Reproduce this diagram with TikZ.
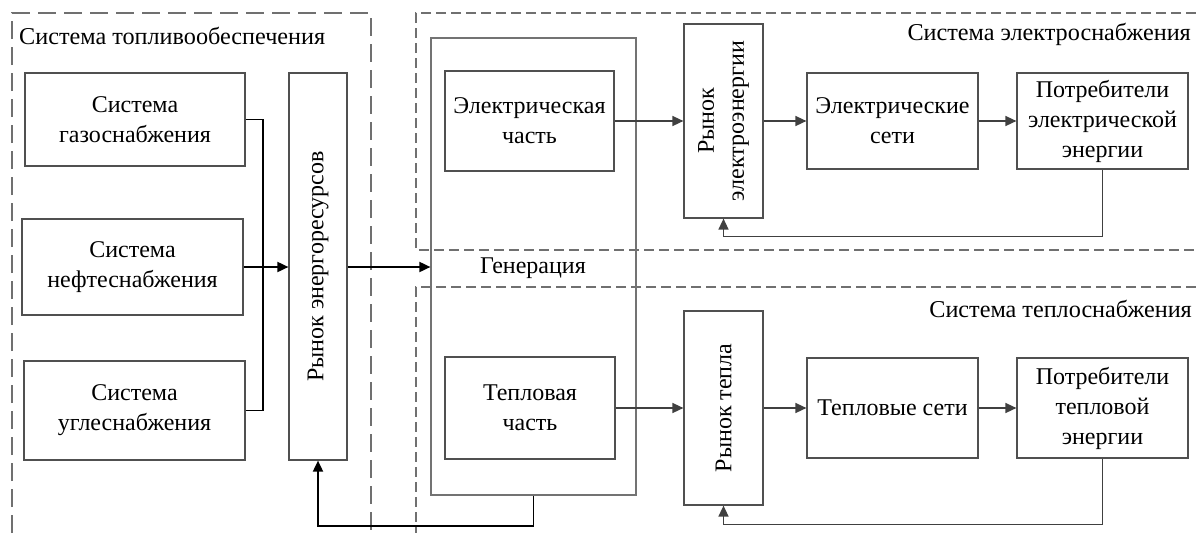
\documentclass[tikz,border=0pt]{standalone}
\usepackage{fontspec}
\setmainfont{Liberation Serif}
\usetikzlibrary{arrows.meta}
\definecolor{boxc}{HTML}{505050}
\definecolor{arrc}{HTML}{404040}
\definecolor{dashc}{HTML}{707070}
\begin{document}
\begin{tikzpicture}[x=1pt,y=-1pt,
  bf/.style={font=\fontsize{24}{30}\selectfont},
  blk/.style={draw=boxc,line width=1.2pt,inner sep=0pt,align=center,bf},
  ttl/.style={inner sep=0pt,font=\fontsize{24.2}{28}\selectfont},
  lar/.style={black,line width=1.8pt,-{Triangle[length=11pt,width=10pt]}},
  lln/.style={black,line width=1.8pt},
  rar/.style={arrc,line width=1.5pt,-{Triangle[length=11pt,width=10pt]}},
  dbig/.style={dashc,line width=1.2pt,dash pattern=on 18pt off 8pt},
  dsmall/.style={dashc,line width=1.2pt,dash pattern=on 10pt off 5pt}]
\useasboundingbox (0,0) rectangle (1196,533);
% dashed system frames
\draw[dbig] (12,533) -- (12,13) -- (371,13) -- (371,533);
\draw[dsmall] (1196,13) -- (416,13) -- (416,250) -- (1196,250);
\draw[dsmall] (1196,287) -- (416,287) -- (416,533);
\node[ttl,anchor=west] (t1) at (19,36) {Система топливообеспечения};
\node[ttl,anchor=east] (t2) at (1191,34) {Система электроснабжения};
\node[ttl,anchor=east] (t3) at (1192,309) {Система теплоснабжения};
% fuel
\node[blk,minimum width=220pt,minimum height=93pt] (gas) at (135,119.5) {Система\\газоснабжения};
\node[blk,minimum width=221pt,minimum height=96pt] (oil) at (132.5,267) {Система\\нефтеснабжения};
\node[blk,minimum width=221pt,minimum height=99pt] (coal) at (134.5,410.5) {Система\\углеснабжения};
\node[blk,minimum width=58pt,minimum height=387pt] (market) at (318,266.5) {};
\node[rotate=90,bf] (marketl) at (market.center) {Рынок энергоресурсов};
% generation
\node[draw=boxc!80,line width=1.2pt,minimum width=205pt,minimum height=457pt,inner sep=0pt] (gen) at (533.5,266.5) {};
\node[bf] (genl) at (533,268) {Генерация};
\node[blk,minimum width=169pt,minimum height=100pt] (elpart) at (529.5,121) {Электрическая\\часть};
\node[blk,minimum width=170pt,minimum height=102pt] (heatpart) at (530,408) {Тепловая\\часть};
% electricity
\node[blk,minimum width=79pt,minimum height=194pt] (elmarket) at (723.5,121) {};
\node[rotate=90,align=center,bf] (elmarketl) at (elmarket.center) {Рынок\\электроэнергии};
\node[blk,minimum width=171pt,minimum height=96pt] (elnet) at (892.5,121) {Электрические\\сети};
\node[blk,minimum width=171pt,minimum height=96pt] (elcons) at (1102.5,121) {Потребители\\электрической\\энергии};
% heat
\node[blk,minimum width=79pt,minimum height=194pt] (heatmarket) at (723.5,408) {};
\node[rotate=90,bf] (heatmarketl) at (heatmarket.center) {Рынок тепла};
\node[blk,minimum width=171pt,minimum height=100pt] (heatnet) at (892.5,408) {Тепловые сети};
\node[blk,minimum width=171pt,minimum height=100pt] (heatcons) at (1102.5,408) {Потребители\\тепловой\\энергии};
% connectors left
\coordinate (j) at (263,267);
\draw[lln] (gas.east) -| (j);
\draw[lln] (coal.east) -| (j);
\draw[lar] (oil.east) -- (oil.east -| market.west);
\draw[lar] (market.east |- oil.east) -- (oil.east -| gen.west);
\draw[lar] (gen.south) -- ++(0,30) -| (market.south);
% connectors right
\draw[rar] (elpart.east) -- (elmarket.west);
\draw[rar] (elmarket.east) -- (elnet.west);
\draw[rar] (elnet.east) -- (elcons.west);
\draw[rar] (elcons.south) -- ++(0,67) -| (elmarket.south);
\draw[rar] (heatpart.east) -- (heatmarket.west);
\draw[rar] (heatmarket.east) -- (heatnet.west);
\draw[rar] (heatnet.east) -- (heatcons.west);
\draw[rar] (heatcons.south) -- ++(0,66) -| (heatmarket.south);
\end{tikzpicture}
\end{document}
